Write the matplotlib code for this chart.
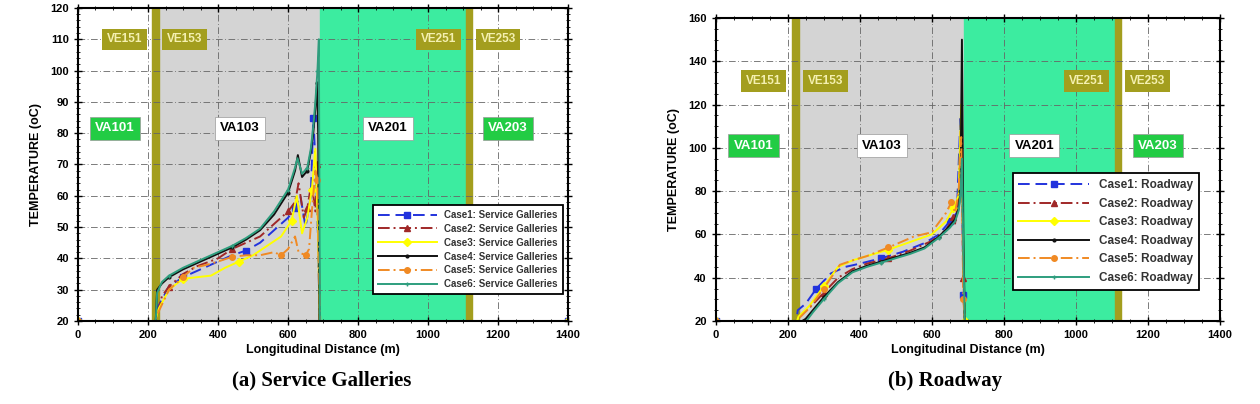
import matplotlib.pyplot as plt
from matplotlib.ticker import MultipleLocator

plt.rcParams['font.family'] = ['Liberation Sans', 'DejaVu Sans']

# ---- (a) Service Galleries ----
sg_x = {
    'Case1': [0, 222, 226, 260, 300, 340, 400, 440, 480, 520, 560, 600, 620, 635, 650, 665, 672, 680, 686, 690, 1400],
    'Case2': [0, 222, 226, 240, 260, 300, 340, 400, 440, 480, 520, 560, 600, 620, 630, 645, 655, 665, 672, 678, 683, 690, 1400],
    'Case3': [0, 222, 226, 260, 300, 340, 380, 420, 460, 500, 540, 580, 610, 625, 640, 655, 668, 678, 686, 690, 1400],
    'Case4': [0, 222, 226, 240, 260, 300, 340, 400, 440, 480, 520, 560, 600, 620, 628, 640, 655, 665, 672, 678, 683, 686, 690, 1400],
    'Case5': [0, 222, 226, 260, 300, 330, 370, 400, 440, 480, 520, 560, 580, 600, 620, 630, 650, 660, 668, 678, 684, 688, 692, 1400],
    'Case6': [0, 222, 226, 240, 260, 300, 340, 400, 440, 480, 520, 560, 600, 620, 627, 640, 655, 665, 672, 678, 684, 688, 691, 1400],
}
sg_y = {
    'Case1': [20, 20, 24, 31, 34, 36, 39, 41, 42.5, 45, 49, 53, 56, 60, 50, 60, 85, 67, 45, 20, 20],
    'Case2': [20, 20, 22, 28, 31, 35, 37.5, 40, 43, 45, 47, 51, 55, 58, 64, 53, 56, 63, 60, 55, 70, 20, 20],
    'Case3': [20, 20, 23, 30, 33.5, 34, 34.5, 37, 39, 41, 44, 47, 52, 60, 48, 53, 62, 75, 47, 20, 20],
    'Case4': [20, 20, 30, 32, 34, 36.5, 38.5, 41.5, 43.5, 46, 49, 54, 61, 68, 73, 66, 68, 74, 80, 88, 96, 80, 20, 20],
    'Case5': [20, 20, 22, 30, 34, 37, 38, 39, 40.5, 41, 41, 42, 41, 43, 47, 42, 41, 43, 55, 68, 65, 40, 20, 20],
    'Case6': [20, 20, 29, 32.5, 34.5, 37, 39, 42, 44, 46.5, 49.5, 55, 62, 69, 72, 67, 69, 75, 82, 90, 100, 110, 20, 20],
}

# ---- (b) Roadway ----
rw_x = {
    'Case1': [0, 224, 228, 250, 280, 320, 360, 400, 460, 520, 580, 620, 650, 670, 680, 686, 688, 692, 1400],
    'Case2': [0, 228, 232, 260, 300, 340, 380, 420, 480, 540, 600, 640, 660, 665, 675, 682, 688, 692, 1400],
    'Case3': [0, 226, 230, 260, 300, 340, 380, 420, 480, 540, 600, 640, 660, 675, 682, 688, 692, 1400],
    'Case4': [0, 240, 250, 270, 300, 340, 380, 420, 460, 500, 540, 580, 620, 650, 665, 675, 680, 684, 688, 692, 1400],
    'Case5': [0, 226, 230, 260, 300, 345, 380, 420, 480, 550, 600, 640, 655, 665, 675, 682, 688, 692, 1400],
    'Case6': [0, 246, 252, 270, 300, 340, 380, 420, 460, 500, 540, 580, 620, 650, 665, 675, 680, 684, 688, 692, 1400],
}
rw_y = {
    'Case1': [20, 20, 25, 28, 35, 42, 45, 46.5, 49, 52, 56, 60, 66, 70, 115, 60, 32, 20, 20],
    'Case2': [20, 20, 22, 26, 33, 40, 44, 46.5, 49, 52.5, 57, 62, 68, 65, 78, 118, 40, 20, 20],
    'Case3': [20, 20, 22, 27, 36, 45, 48, 50, 53, 56.5, 60, 66, 72, 78, 120, 45, 20, 20],
    'Case4': [20, 20, 21, 25, 31, 38, 43, 45.5, 47.5, 49.5, 51.5, 54, 59, 64, 67, 72, 80, 150, 60, 20, 20],
    'Case5': [20, 20, 21, 26, 35, 46, 48, 50, 54, 59, 61, 70, 75, 70, 80, 105, 30, 20, 20],
    'Case6': [20, 20, 20, 24, 30, 37.5, 42.5, 45, 47, 49, 51, 53.5, 58.5, 63, 66, 71, 78, 95, 50, 20, 20],
}

styles = {
    'Case1': dict(color='#2233dd', ls=(0, (6, 3)), marker='s', ms=4),
    'Case2': dict(color='#a02828', ls=(0, (6, 2, 1, 2)), marker='^', ms=4),
    'Case3': dict(color='#ffff00', ls='-', marker='D', ms=4),
    'Case4': dict(color='#111111', ls='-', marker='.', ms=4),
    'Case5': dict(color='#f08a24', ls=(0, (6, 2, 1, 2)), marker='o', ms=4),
    'Case6': dict(color='#2e9e7e', ls='-', marker='+', ms=3),
}

olive = '#a39e1e'
green = '#22cc44'


def draw_panel(ax, xs, ys, suffix, ymax, ystep, yminor, ve_y, va_y, fs_leg, leg_anchor, lspace):
    ax.set_xlim(0, 1400)
    ax.set_ylim(20, ymax)
    ax.axvspan(230, 690, color='#d4d4d4', zorder=0)
    ax.axvspan(690, 1108, color='#3ceca0', zorder=0)
    ax.axvspan(212, 232, color=olive, zorder=0.5)
    ax.axvspan(1108, 1126, color=olive, zorder=0.5)
    ax.grid(True, color='#666666', ls=(0, (8, 3, 1, 3)), lw=0.6)
    ax.set_axisbelow(True)
    for gl in ax.get_xgridlines() + ax.get_ygridlines():
        gl.set_zorder(0.6)

    for name in ['Case1', 'Case2', 'Case3', 'Case4', 'Case5', 'Case6']:
        st = styles[name]
        ax.plot(xs[name], ys[name], color=st['color'], ls=st['ls'], lw=1.4,
                marker=st['marker'], ms=st['ms'], markevery=4,
                label=f'{name}: {suffix}', zorder=3)

    for txt, xc in [('VE151', 132), ('VE153', 305), ('VE251', 1030), ('VE253', 1200)]:
        ax.text(xc, ve_y, txt, ha='center', va='center', fontsize=8.5, fontweight='bold',
                color='#f4f0b0', zorder=4,
                bbox=dict(boxstyle='square,pad=0.4', fc=olive, ec='none'))
    for txt, xc, fc, tc in [('VA101', 105, green, 'white'), ('VA103', 462, 'white', 'black'),
                            ('VA201', 885, 'white', 'black'), ('VA203', 1228, green, 'white')]:
        ax.text(xc, va_y, txt, ha='center', va='center', fontsize=9.5, fontweight='bold',
                color=tc, zorder=4,
                bbox=dict(boxstyle='square,pad=0.4', fc=fc, ec='#999999', lw=0.5))

    ax.xaxis.set_major_locator(MultipleLocator(200))
    ax.xaxis.set_minor_locator(MultipleLocator(50))
    ax.yaxis.set_major_locator(MultipleLocator(ystep))
    ax.yaxis.set_minor_locator(MultipleLocator(yminor))
    ax.tick_params(which='both', top=True, right=True, direction='inout', labelsize=8)
    ax.tick_params(which='major', length=6, width=1.0)
    ax.tick_params(which='minor', length=3, width=0.6)
    for lab in ax.get_xticklabels() + ax.get_yticklabels():
        lab.set_fontweight('bold')
    for sp in ax.spines.values():
        sp.set_linewidth(1.5)
        sp.set_zorder(5)
    ax.set_xlabel('Longitudinal Distance (m)', fontsize=9, fontweight='bold', labelpad=3)
    ax.set_ylabel('TEMPERATURE (oC)', fontsize=9, fontweight='bold', labelpad=6)

    leg = ax.legend(loc='lower right', bbox_to_anchor=leg_anchor, fontsize=fs_leg,
                    frameon=True, fancybox=False, framealpha=1, edgecolor='black',
                    handlelength=6, labelspacing=lspace, borderpad=0.5)
    leg.get_frame().set_linewidth(1.3)
    leg.set_zorder(6)
    for t in leg.get_texts():
        t.set_fontweight('bold')
        t.set_color('#333333')


fig = plt.figure(figsize=(12.6, 4.04), dpi=100)
ax1 = fig.add_axes([0.0619, 0.2054, 0.389, 0.775])
ax2 = fig.add_axes([0.568, 0.2054, 0.400, 0.750])

draw_panel(ax1, sg_x, sg_y, 'Service Galleries', 120, 10, 2, 110, 81.5, 7, (0.999, 0.07), 0.4)
draw_panel(ax2, rw_x, rw_y, 'Roadway', 160, 20, 5, 131, 101, 8.5, (0.97, 0.084), 0.55)

fig.text(0.2556, 0.058, '(a) Service Galleries', ha='center', va='center',
         fontsize=15, fontweight='bold', family='Liberation Serif')
fig.text(0.75, 0.058, '(b) Roadway', ha='center', va='center',
         fontsize=15, fontweight='bold', family='Liberation Serif')

fig.savefig('out.png', dpi=100)
